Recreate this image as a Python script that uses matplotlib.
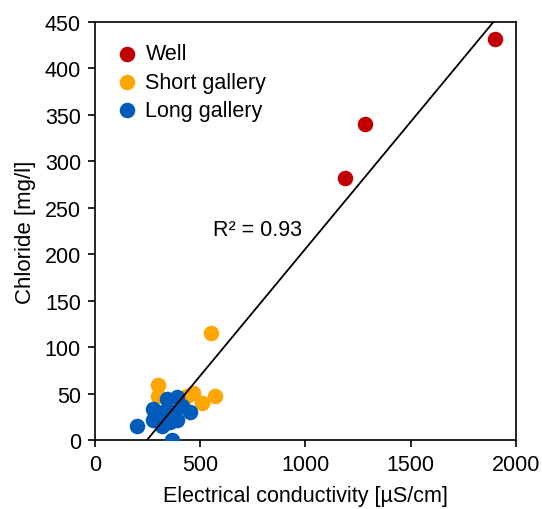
import matplotlib.pyplot as plt
import numpy as np

plt.rcParams['font.family'] = ['Liberation Sans', 'DejaVu Sans']

well_ec = [1900, 1285, 1190]
well_cl = [432, 340, 282]

short_ec = [550, 300, 570, 468, 507, 300, 436]
short_cl = [115, 59, 48, 51, 40, 48, 48]

long_ec = [198, 365, 277, 277, 341, 389, 452, 412, 317, 357, 325, 372, 389]
long_cl = [15, 0, 33, 22, 44, 46, 30, 37, 15, 19, 30, 30, 22]

fit_x = [247, 1893]
fit_y = [0, 450]

fig = plt.figure(figsize=(5.42, 5.10), dpi=100)
ax = fig.add_axes([0.175, 0.135, 0.777, 0.82])

ax.scatter(well_ec, well_cl, s=125, color='#C00000', label='Well', zorder=3, linewidths=0)
ax.scatter(short_ec, short_cl, s=125, color='#FFA500', label='Short gallery', zorder=3, linewidths=0)
ax.scatter(long_ec, long_cl, s=125, color='#005BBB', label='Long gallery', zorder=4, linewidths=0)

# trend line
slope = (fit_y[1] - fit_y[0]) / (fit_x[1] - fit_x[0])
xs = np.array([fit_x[0], fit_x[1]])
ax.plot(xs, fit_y[0] + slope * (xs - fit_x[0]), color='black', lw=1.3, zorder=5)

ax.text(561, 227, 'R² = 0.93', fontsize=15.5, va='center')

ax.set_xlim(0, 2000)
ax.set_ylim(0, 450)
ax.set_xticks(range(0, 2001, 500))
ax.set_yticks(range(0, 451, 50))
ax.tick_params(direction='out', length=5, width=1.2, labelsize=15.5, pad=5)
for sp in ax.spines.values():
    sp.set_linewidth(1.2)
ax.set_xlabel('Electrical conductivity [µS/cm]', fontsize=15.5, labelpad=7)
ax.set_ylabel('Chloride [mg/l]', fontsize=16, labelpad=6)

ax.legend(loc='upper left', frameon=False, fontsize=15.5, handletextpad=0.35,
          labelspacing=0.33, borderaxespad=0.6, handlelength=1.0)

fig.savefig('out.png', dpi=100)
